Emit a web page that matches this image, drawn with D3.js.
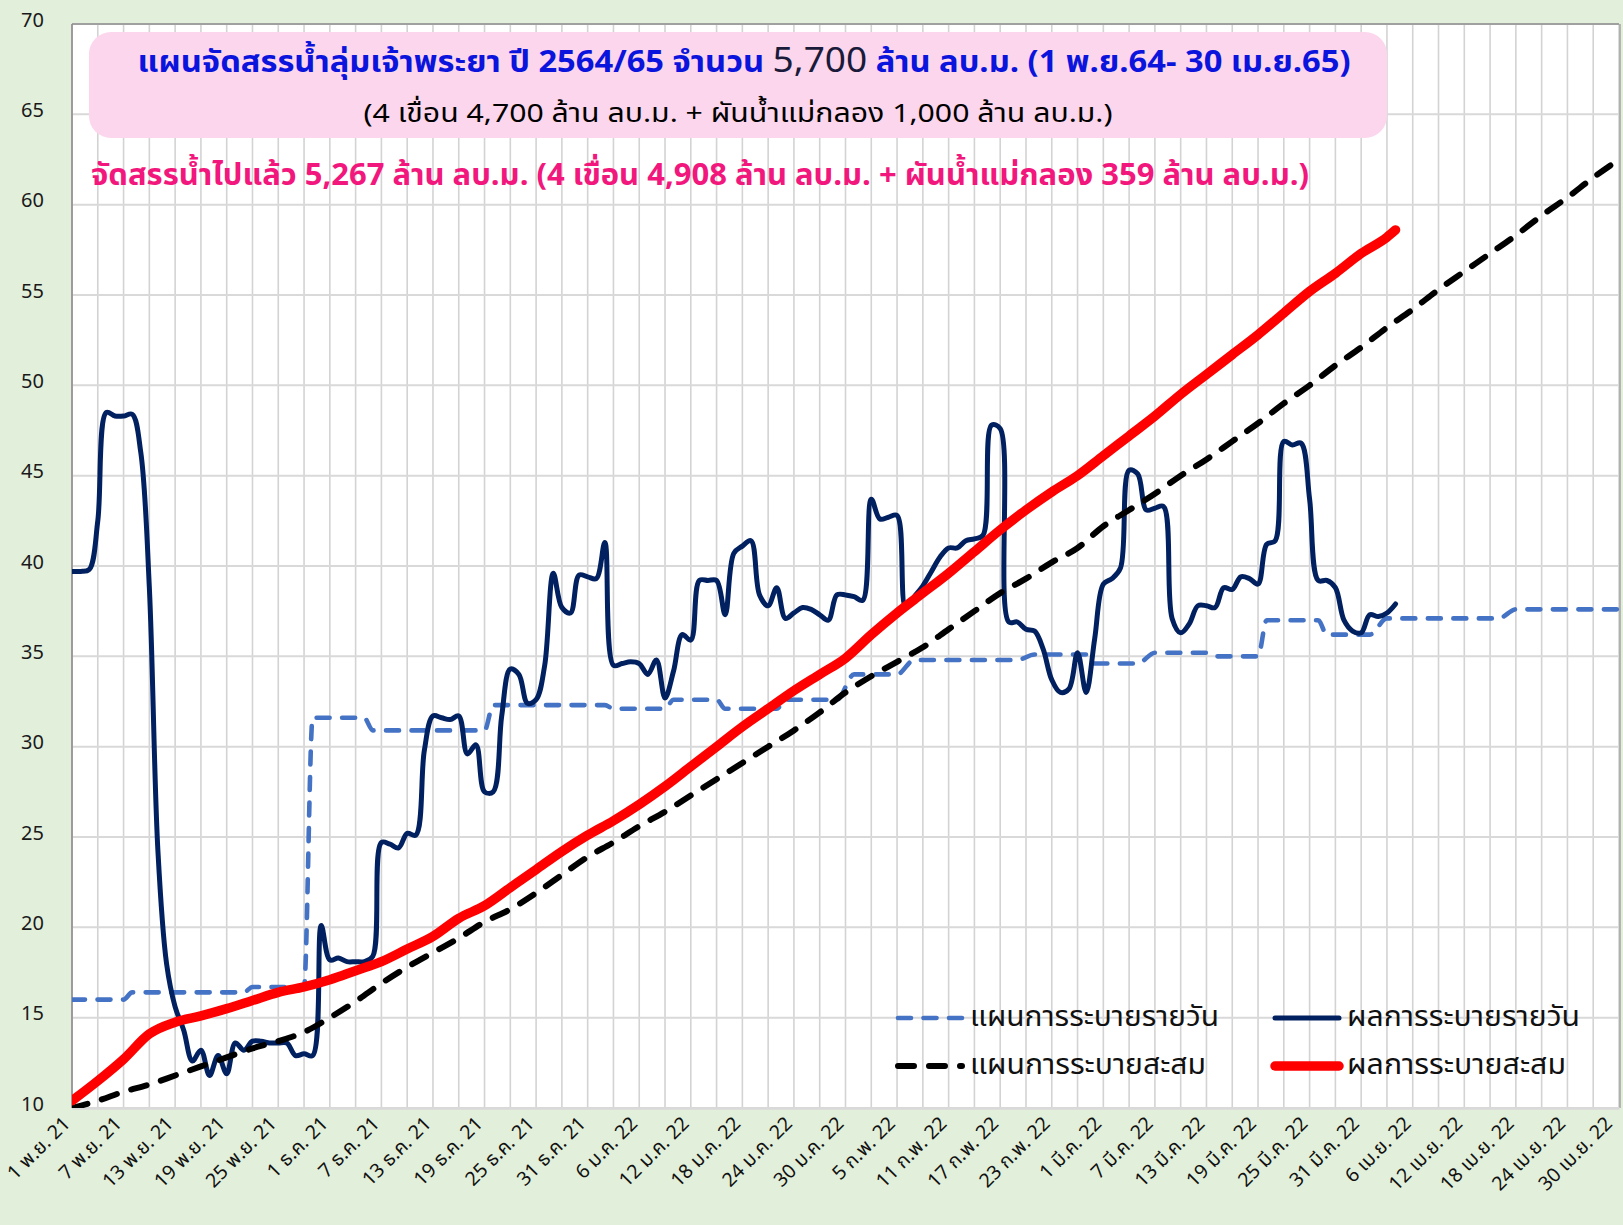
<!DOCTYPE html>
<html lang="th">
<head>
<meta charset="utf-8">
<title>แผนจัดสรรน้ำลุ่มเจ้าพระยา ปี 2564/65</title>
<script src="https://cdn.jsdelivr.net/npm/d3@7/dist/d3.min.js"></script>
<style>
  html, body { margin: 0; padding: 0; background: #E2EFDA; }
  svg { display: block; }
  text { font-family: Tahoma, "Leelawadee UI", "Noto Sans Thai", "Noto Sans", sans-serif; }
</style>
</head>
<body>
<svg id="chart" width="1623" height="1225"></svg>
<script>
// ---- Axis labels ----
const tickLabels = [
  "1 พ.ย. 21", "7 พ.ย. 21", "13 พ.ย. 21", "19 พ.ย. 21", "25 พ.ย. 21",
  "1 ธ.ค. 21", "7 ธ.ค. 21", "13 ธ.ค. 21", "19 ธ.ค. 21", "25 ธ.ค. 21", "31 ธ.ค. 21",
  "6 ม.ค. 22", "12 ม.ค. 22", "18 ม.ค. 22", "24 ม.ค. 22", "30 ม.ค. 22",
  "5 ก.พ. 22", "11 ก.พ. 22", "17 ก.พ. 22", "23 ก.พ. 22",
  "1 มี.ค. 22", "7 มี.ค. 22", "13 มี.ค. 22", "19 มี.ค. 22", "25 มี.ค. 22", "31 มี.ค. 22",
  "6 เม.ย. 22", "12 เม.ย. 22", "18 เม.ย. 22", "24 เม.ย. 22", "30 เม.ย. 22"
];
const yTicks = [10, 15, 20, 25, 30, 35, 40, 45, 50, 55, 60, 65, 70];

// ---- Daily release plan (day index from 1 Nov 2021, value) ----
const planDailyDays = [0, 6, 7, 20, 21, 27, 28, 34, 35, 48, 49, 62, 63, 69, 70, 75, 76, 82, 83, 89,
  91, 96, 98, 110, 112, 118, 119, 124, 126, 132, 133, 138, 139, 145, 146, 151, 153, 166, 168, 180];
const planDailyValues = [16.0, 16.0, 16.4, 16.4, 16.7, 16.7, 31.6, 31.6, 30.9, 30.9, 32.3, 32.3, 32.1, 32.1, 32.6, 32.6, 32.1, 32.1, 32.6, 32.6,
  34.0, 34.0, 34.8, 34.8, 35.1, 35.1, 34.6, 34.6, 35.2, 35.2, 35.0, 35.0, 37.0, 37.0, 36.2, 36.2, 37.1, 37.1, 37.6, 37.6];

// ---- Daily release result, one value per day from 1 Nov 2021 ----
const actualDaily = [
  39.7, 39.7, 39.8, 42.5, 48.5, 48.3, 48.3, 48.4, 46.3, 38.8,   // 1-10 Nov
  24.2, 18.0, 15.6, 14.3, 12.6, 13.2, 11.8, 12.9, 11.9, 13.6,   // 11-20 Nov
  13.2, 13.7, 13.7, 13.6, 13.6, 13.6, 12.9, 13.0, 12.9, 20.1,   // 21-30 Nov
  18.2, 18.3, 18.1, 18.1, 18.1, 18.4, 24.7, 24.6, 24.4, 25.2,   // 1-10 Dec
  25.1, 29.8, 31.7, 31.6, 31.5, 31.7, 29.6, 30.1, 27.5, 27.5,   // 11-20 Dec
  31.7, 34.3, 34.0, 32.4, 32.6, 34.5, 39.6, 37.7, 37.4, 39.5,   // 21-30 Dec
  39.4, 39.3, 41.3, 34.5, 34.6, 34.7, 34.6, 34.0, 34.8, 32.7,   // 31 Dec-9 Jan
  34.2, 36.2, 35.9, 39.2, 39.2, 39.2, 37.3, 40.7, 41.1, 41.4,   // 10-19 Jan
  38.4, 37.8, 38.8, 37.1, 37.4, 37.7, 37.6, 37.3, 37.0, 38.4,   // 20-29 Jan
  38.4, 38.3, 38.1, 43.7, 42.6, 42.7, 42.8, 37.7, 38.3, 38.9,   // 30 Jan-8 Feb
  39.7, 40.5, 41.0, 41.0, 41.4, 41.5, 41.7, 47.8, 47.6, 36.9,   // 9-18 Feb
  36.9, 36.5, 36.4, 35.4, 33.7, 33.0, 33.2, 35.2, 33.0, 36.0,   // 19-28 Feb
  39.0, 39.3, 39.9, 45.3, 45.1, 43.1, 43.2, 43.3, 37.1, 36.3,   // 1-10 Mar
  36.8, 37.8, 37.8, 37.7, 38.8, 38.7, 39.4, 39.3, 39.0, 41.2,   // 11-20 Mar
  41.4, 46.9, 46.7, 46.8, 43.7, 39.2, 39.2, 38.8, 37.0, 36.4,   // 21-30 Mar
  36.3, 37.3, 37.2, 37.4, 37.9                                  // 31 Mar-4 Apr
];

// ---- Accumulated plan and result (scaled), sampled every third day ----
const planCumDays = [0, 3, 6, 9, 12, 15, 18, 21, 24, 27, 30, 33, 36, 39, 42, 45, 48, 51, 54, 57, 60,
  63, 66, 69, 72, 75, 78, 81, 84, 87, 90, 93, 96, 99, 102, 105, 108, 111, 114, 117, 120,
  123, 126, 129, 132, 135, 138, 141, 144, 147, 150, 153, 156, 159, 162, 165, 168, 171, 174, 177, 180];
const planCumValues = [10.0, 10.4, 10.9, 11.3, 11.8, 12.3, 12.8, 13.3, 13.7, 14.2, 15.0, 15.9, 16.9, 17.8, 18.6, 19.4, 20.3, 21.0, 21.9, 22.9, 23.9,
  24.7, 25.6, 26.4, 27.3, 28.2, 29.1, 30.0, 30.9, 31.9, 33.0, 33.9, 34.7, 35.5, 36.5, 37.5, 38.5, 39.3, 40.2, 41.0, 42.2,
  43.1, 44.0, 45.0, 45.9, 46.9, 47.9, 49.0, 50.0, 51.1, 52.1, 53.2, 54.2, 55.3, 56.3, 57.3, 58.3, 59.4, 60.4, 61.5, 62.5];

const actualCumDays = [0, 3, 6, 9, 12, 15, 18, 21, 24, 27, 30, 33, 36, 39, 42, 45, 48, 51, 54, 57, 60,
  63, 66, 69, 72, 75, 78, 81, 84, 87, 90, 93, 96, 99, 102, 105, 108, 111, 114, 117, 120,
  123, 126, 129, 132, 135, 138, 141, 144, 147, 150, 153, 154];
const actualCumValues = [10.4, 11.5, 12.7, 14.1, 14.75, 15.1, 15.5, 15.95, 16.4, 16.7, 17.1, 17.6, 18.1, 18.8, 19.5, 20.5, 21.2, 22.2, 23.2, 24.2, 25.1,
  25.9, 26.8, 27.8, 28.9, 30.0, 31.1, 32.1, 33.1, 34.0, 34.9, 36.2, 37.4, 38.5, 39.6, 40.8, 42.0, 43.1, 44.1, 45.0, 46.1,
  47.2, 48.3, 49.5, 50.6, 51.7, 52.8, 54.0, 55.2, 56.2, 57.3, 58.2, 58.6];

// ---- Series names ----
const seriesNames = ["แผนการระบายรายวัน", "ผลการระบายรายวัน", "แผนการระบายสะสม", "ผลการระบายสะสม"];

// ---- Text ----
const titleMain = "แผนจัดสรรน้ำลุ่มเจ้าพระยา ปี 2564/65 จำนวน ";
const titleAmount = "5,700";
const titleTail = " ล้าน ลบ.ม. (1 พ.ย.64- 30 เม.ย.65)";
const titleSub = "(4 เขื่อน 4,700 ล้าน ลบ.ม. + ผันน้ำแม่กลอง 1,000 ล้าน ลบ.ม.)";
const allocatedNote = "จัดสรรน้ำไปแล้ว 5,267 ล้าน ลบ.ม. (4 เขื่อน 4,908 ล้าน ลบ.ม. + ผันน้ำแม่กลอง 359 ล้าน ลบ.ม.)";

// ================= drawing =================
const svg = d3.select("#chart");
const plot = { left: 72, right: 1619, top: 24, bottom: 1108 };

const x = d3.scaleLinear().domain([0, 180]).range([plot.left, plot.right]);
const y = d3.scaleLinear().domain([10, 70]).range([plot.bottom, plot.top]);

function fitWidth(sel, w) {
  const n = sel.node().getComputedTextLength();
  if (Math.abs(n - w) > 4) sel.attr("textLength", w).attr("lengthAdjust", "spacingAndGlyphs");
}

// plot area
svg.append("rect")
  .attr("x", plot.left).attr("y", plot.top)
  .attr("width", plot.right - plot.left).attr("height", plot.bottom - plot.top)
  .attr("fill", "#ffffff");

// vertical grid every third day
svg.append("g")
  .selectAll("line")
  .data(d3.range(0, 181, 3))
  .join("line")
  .attr("x1", d => x(d)).attr("x2", d => x(d))
  .attr("y1", plot.top).attr("y2", plot.bottom)
  .attr("stroke", "#d3d3d3").attr("stroke-width", 1.6);

// horizontal grid
svg.append("g")
  .selectAll("line")
  .data(yTicks)
  .join("line")
  .attr("x1", plot.left).attr("x2", plot.right)
  .attr("y1", d => y(d)).attr("y2", d => y(d))
  .attr("stroke", "#d9d9d9").attr("stroke-width", 2);

// plot frame
svg.append("line").attr("x1", plot.left).attr("x2", plot.left)
  .attr("y1", plot.top).attr("y2", plot.bottom)
  .attr("stroke", "#8c8c8c").attr("stroke-width", 1.6);
svg.append("line").attr("x1", plot.left).attr("x2", plot.right)
  .attr("y1", plot.top).attr("y2", plot.top)
  .attr("stroke", "#8c8c8c").attr("stroke-width", 1.6);
svg.append("line").attr("x1", plot.right + 1).attr("x2", plot.right + 1)
  .attr("y1", plot.top).attr("y2", plot.bottom)
  .attr("stroke", "#a6a6a6").attr("stroke-width", 1.6);

// y axis
const yAxis = svg.append("g")
  .attr("transform", `translate(${plot.left},0)`)
  .call(d3.axisLeft(y).tickValues(yTicks).tickSize(0).tickPadding(28));
yAxis.select(".domain").remove();
yAxis.selectAll("text")
  .attr("font-size", 20).attr("fill", "#1a1a1a")
  .attr("dy", "0.1em")
  .style("font-family", "Tahoma, 'Noto Sans', sans-serif");

// x axis
const xAxis = svg.append("g")
  .attr("transform", `translate(0,${plot.bottom})`)
  .call(d3.axisBottom(x)
    .tickValues(tickLabels.map((_, i) => i * 6))
    .tickFormat((d, i) => tickLabels[i])
    .tickSize(0));
xAxis.select(".domain").attr("stroke", "#d9d9d9").attr("stroke-width", 2.5);
xAxis.selectAll("text")
  .attr("font-size", 19.5).attr("fill", "#111")
  .attr("text-anchor", "end")
  .attr("dy", null).attr("y", null)
  .attr("transform", (d, i) => i === tickLabels.length - 1
    ? "translate(-10,13) rotate(-45)"
    : "translate(-5,13) rotate(-45)")
  .attr("dominant-baseline", "middle");

// clip
svg.append("clipPath").attr("id", "plotClip")
  .append("rect")
  .attr("x", plot.left).attr("y", plot.top - 10)
  .attr("width", plot.right - plot.left + 2).attr("height", plot.bottom - plot.top + 10);

const lines = svg.append("g").attr("clip-path", "url(#plotClip)");

const stepLine = d3.line().x(d => x(d[0])).y(d => y(d[1])).curve(d3.curveMonotoneX);
const smoothLine = d3.line().x(d => x(d[0])).y(d => y(d[1])).curve(d3.curveCatmullRom.alpha(0.5));

const planDaily = planDailyDays.map((d, i) => [d, planDailyValues[i]]);
const actualDailyPts = actualDaily.map((v, i) => [i, v]);
const planCum = planCumDays.map((d, i) => [d, planCumValues[i]]);
const actualCum = actualCumDays.map((d, i) => [d, actualCumValues[i]]);

const styles = [
  { color: "#4472C4", width: 4.6, dash: "13,12.5" },
  { color: "#002060", width: 5, dash: null },
  { color: "#000000", width: 6, dash: "16,15" },
  { color: "#FF0000", width: 9.5, dash: null }
];

lines.append("path").datum(planDaily)
  .attr("d", stepLine).attr("fill", "none")
  .attr("stroke", styles[0].color).attr("stroke-width", styles[0].width)
  .attr("stroke-dasharray", styles[0].dash).attr("stroke-linecap", "round");

lines.append("path").datum(actualDailyPts)
  .attr("d", smoothLine).attr("fill", "none")
  .attr("stroke", styles[1].color).attr("stroke-width", styles[1].width)
  .attr("stroke-linejoin", "round").attr("stroke-linecap", "round");

lines.append("path").datum(planCum)
  .attr("d", stepLine).attr("fill", "none")
  .attr("stroke", styles[2].color).attr("stroke-width", styles[2].width)
  .attr("stroke-dasharray", styles[2].dash).attr("stroke-linecap", "round");

lines.append("path").datum(actualCum)
  .attr("d", stepLine).attr("fill", "none")
  .attr("stroke", styles[3].color).attr("stroke-width", styles[3].width)
  .attr("stroke-linejoin", "round").attr("stroke-linecap", "round");

// legend
const legendPos = [
  { x: 896, y: 1018, w: 249 }, { x: 1273, y: 1018, w: 233 },
  { x: 896, y: 1066, w: 236 }, { x: 1273, y: 1066, w: 219 }
];
const legend = svg.append("g");
seriesNames.forEach((name, i) => {
  const p = legendPos[i], s = styles[i];
  legend.append("line")
    .attr("x1", p.x + 2).attr("x2", p.x + 66)
    .attr("y1", p.y).attr("y2", p.y)
    .attr("stroke", s.color).attr("stroke-width", s.width)
    .attr("stroke-dasharray", s.dash).attr("stroke-linecap", "round");
  const t = legend.append("text")
    .attr("x", p.x + 74).attr("y", p.y)
    .attr("dominant-baseline", "middle")
    .attr("font-size", 28).attr("fill", "#111")
    .text(name);
  fitWidth(t, p.w);
});

// title box
svg.append("rect")
  .attr("x", 89).attr("y", 32).attr("width", 1298).attr("height", 106)
  .attr("rx", 22).attr("fill", "#FCD6EC");

const t1 = svg.append("text")
  .attr("x", 744).attr("y", 72).attr("text-anchor", "middle")
  .attr("font-size", 30).attr("font-weight", "bold").attr("fill", "#0A14DC");
t1.append("tspan").text(titleMain);
t1.append("tspan").attr("fill", "#1a1a3a").attr("font-size", 34).attr("font-weight", "normal").text(titleAmount);
t1.append("tspan").text(titleTail);
fitWidth(t1, 1213);

const t2 = svg.append("text")
  .attr("x", 738).attr("y", 122).attr("text-anchor", "middle")
  .attr("font-size", 26).attr("fill", "#000").text(titleSub);
fitWidth(t2, 749);

const t3 = svg.append("text")
  .attr("x", 91).attr("y", 185)
  .attr("font-size", 30).attr("font-weight", "bold").attr("fill", "#F2177C").text(allocatedNote);
fitWidth(t3, 1218);
</script>
</body>
</html>
